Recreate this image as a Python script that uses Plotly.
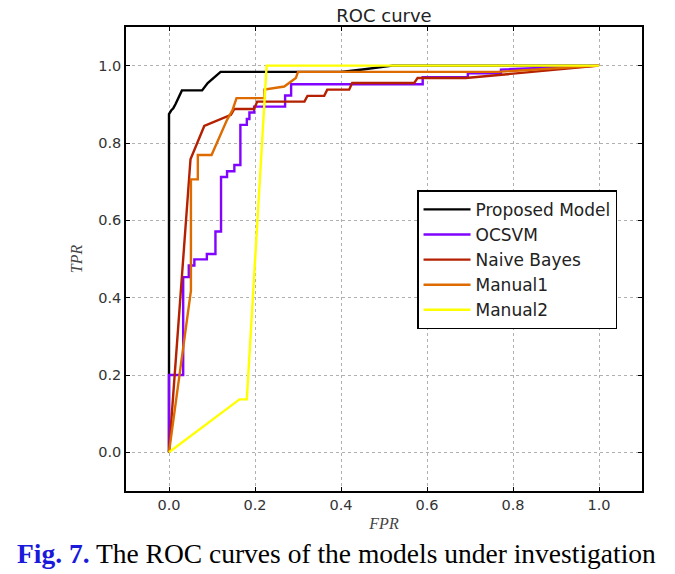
import plotly.graph_objects as go

names = ["Proposed Model", "OCSVM", "Naive Bayes", "Manual1", "Manual2"]
colors = ["#000000", "#8004ff", "#b42000", "#dd6b00", "#ffff00"]

proposed_fpr = [0.0, 0.0, 0.005, 0.01, 0.015, 0.03, 0.077, 0.09, 0.12, 0.40, 0.45, 0.52, 1.0]
proposed_tpr = [0.0, 0.875, 0.884, 0.89, 0.90, 0.936, 0.936, 0.955, 0.984, 0.984, 0.99, 1.0, 1.0]

ocsvm_fpr = [0.0, 0.0, 0.033, 0.033, 0.046, 0.046, 0.059, 0.059, 0.088, 0.088, 0.108, 0.108, 0.121, 0.121,
             0.135, 0.135, 0.152, 0.152, 0.166, 0.166, 0.181, 0.181, 0.187, 0.187, 0.198, 0.198, 0.27, 0.27,
             0.284, 0.284, 0.59, 0.59, 0.695, 0.695, 0.772, 0.772, 1.0]
ocsvm_tpr = [0.0, 0.2, 0.2, 0.453, 0.453, 0.483, 0.483, 0.499, 0.499, 0.513, 0.513, 0.571, 0.571, 0.712,
             0.712, 0.727, 0.727, 0.743, 0.743, 0.847, 0.847, 0.862, 0.862, 0.879, 0.879, 0.894, 0.894, 0.923,
             0.923, 0.952, 0.952, 0.97, 0.97, 0.98, 0.98, 0.99, 1.0]

nb_fpr = [0.0, 0.05, 0.082, 0.144, 0.152, 0.198, 0.205, 0.315, 0.322, 0.361, 0.368, 0.419, 0.426, 0.57, 0.578, 0.69, 1.0]
nb_tpr = [0.0, 0.758, 0.844, 0.873, 0.888, 0.888, 0.907, 0.907, 0.922, 0.922, 0.938, 0.938, 0.955, 0.955, 0.968, 0.968, 1.0]

m1_fpr = [0.0, 0.051, 0.051, 0.067, 0.067, 0.099, 0.135, 0.148, 0.157, 0.222, 0.222, 0.268, 0.295, 0.3, 0.764, 1.0]
m1_tpr = [0.0, 0.418, 0.706, 0.706, 0.769, 0.769, 0.86, 0.886, 0.916, 0.916, 0.938, 0.946, 0.968, 0.984, 0.984, 1.0]

m2_fpr = [0.0, 0.164, 0.181, 0.227, 1.0]
m2_tpr = [0.0, 0.137, 0.137, 1.0, 1.0]

series = [(proposed_fpr, proposed_tpr), (ocsvm_fpr, ocsvm_tpr), (nb_fpr, nb_tpr), (m1_fpr, m1_tpr), (m2_fpr, m2_tpr)]
tick_vals = [0.0, 0.2, 0.4, 0.6, 0.8, 1.0]
tick_text = ["0.0", "0.2", "0.4", "0.6", "0.8", "1.0"]

fig = go.Figure()
for name, color, (x, y) in zip(names, colors, series):
    fig.add_trace(go.Scatter(x=x, y=y, mode="lines", name=name,
                             line=dict(color=color, width=2.4)))

axis_common = dict(
    tickvals=tick_vals, ticktext=tick_text,
    showgrid=True, gridcolor="#b0b0b0", griddash="dot", gridwidth=1,
    showline=True, linecolor="#000000", linewidth=1.5, mirror="allticks",
    ticks="inside", ticklen=4, tickcolor="#000000",
    zeroline=False,
    tickfont=dict(family="DejaVu Sans", size=14.5, color="#333333"),
)

fig.update_xaxes(range=[-0.1, 1.1],
                 title=dict(text="<i>FPR</i>", font=dict(family="Liberation Serif", size=16, color="#444444"), standoff=6),
                 **axis_common)
fig.update_yaxes(range=[-0.1, 1.1],
                 title=dict(text="<i>TPR</i>", font=dict(family="Liberation Serif", size=16, color="#444444"), standoff=12),
                 **axis_common)

fig.update_layout(
    width=675, height=574,
    margin=dict(l=126, r=33, t=27, b=83),
    plot_bgcolor="white", paper_bgcolor="white",
    title=dict(text="ROC curve", x=0.5, xanchor="center", xref="paper", y=1 - 16 / 574, yanchor="middle",
               font=dict(family="DejaVu Sans", size=18, color="#222222")),
    legend=dict(x=0.564, y=0.648, xanchor="left", yanchor="top",
                bgcolor="white", bordercolor="#000000", borderwidth=1.5,
                font=dict(family="DejaVu Sans", size=17, color="#222222"),
                itemwidth=47, entrywidth=152, entrywidthmode="pixels"),
    showlegend=True,
    annotations=[dict(
        text="<b><span style='color:#1a1adb'>Fig. 7.</span></b> The ROC curves of the models under investigation",
        xref="paper", yref="paper", x=(336 - 126) / 516, y=-(553 - 491) / 464, xanchor="center", yanchor="middle",
        showarrow=False, font=dict(family="Liberation Serif", size=27.5, color="#000000"))],
)

fig.write_html("out.html", config={"displayModeBar": False},
               post_script="document.body.style.margin='0px';")
